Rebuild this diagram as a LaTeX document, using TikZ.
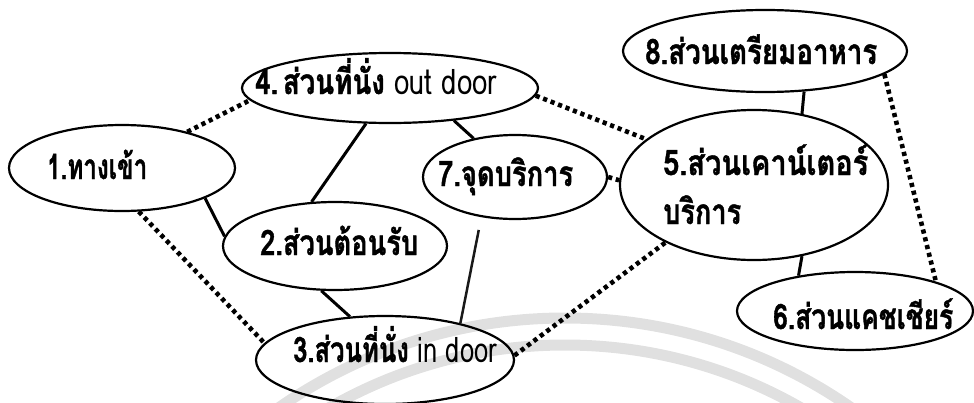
\documentclass[tikz,border=0pt]{standalone}
\usepackage{fontspec}
\usepackage{graphicx}
\newfontfamily\thai[Script=Thai, BoldFeatures={FakeBold=1.3}]{Loma}
\usetikzlibrary{shapes.geometric}
\newcommand\fitw[2]{\resizebox{#1}{\height}{#2}}
\begin{document}
\begin{tikzpicture}[x=1pt,y=-1pt,
  area/.style={draw, ellipse, line width=2.2pt, inner sep=0pt},
  lbl/.style={anchor=base west, inner sep=0pt, font=\thai\bfseries\fontsize{35}{37}\selectfont},
  link/.style={line width=3pt},
  thinlink/.style={line width=2.5pt, black!90},
  dotlink/.style={line width=4.6pt, dash pattern=on 4.2pt off 3.8pt},
  wm/.style={line width=11pt, black!12}]
\useasboundingbox (0,0) rectangle (974,402);
% faint watermark arcs
\begin{scope}
  \clip (0,0) rectangle (974,402);
  \draw[wm] (565,819) circle[radius=501pt];
  \draw[wm] (565,819) circle[radius=474pt];
\end{scope}
% areas
\node[area, minimum width=226pt, minimum height=86pt] (n1) at (122,168) {};
\node[area, minimum width=296pt, minimum height=70pt] (n4) at (390,88) {};
\node[area, minimum width=224pt, minimum height=88pt] (n2) at (335,246) {};
\node[area, minimum width=184pt, minimum height=84pt] (n7) at (515,177) {};
\node[area, minimum width=268pt, minimum height=150pt] (n5) at (754,185) {};
\node[area, minimum width=284pt, minimum height=82pt] (n8) at (765,51) {};
\node[area, minimum width=236pt, minimum height=78pt] (n6) at (855,311) {};
\node[area, minimum width=258pt, minimum height=88pt] (n3) at (385,360) {};
% labels
\node[lbl] (t1) at (47,179) {\fitw{100pt}{1.ทางเข้า}};
\node[lbl] (t4) at (255,94) {\fitw{242pt}{4.\,ส่วนที่นั่ง {\mdseries out door}}};
\node[lbl] (t2) at (260,255) {\fitw{158pt}{2.ส่วนต้อนรับ}};
\node[lbl] (t7) at (438,186) {\fitw{135pt}{7.จุดบริการ}};
\node[lbl] (t5a) at (663,175) {\fitw{205pt}{5.ส่วนเคาน์เตอร์}};
\node[lbl] (t5b) at (663,224) {\fitw{78pt}{บริการ}};
\node[lbl] (t8) at (645,64) {\fitw{232pt}{8.ส่วนเตรียมอาหาร}};
\node[lbl] (t6) at (773,329) {\fitw{180pt}{6.ส่วนแคชเชียร์}};
\node[lbl] (t3) at (293,362) {\fitw{204pt}{3.ส่วนที่นั่ง {\mdseries in door}}};
% connectors
\draw[dotlink] (n1.29) -- (n4.185);
\draw[link] (n1.-20) -- (n2.175);
\draw[dotlink] (n1.-69) -- (n3.172);
\draw[link] (n4.-124) -- (n2.118);
\draw[link] (n4.-27) -- (n7.137);
\draw[dotlink] (n4.-3) -- (n5.157);
\draw[dotlink] (n7.0) -- (n5.178);
\draw[link] (n2.-107) -- (n3.129);
\draw[thinlink, shorten >=13pt] (n3.26) -- (n7.-130);
\draw[dotlink] (n3.2) -- (n5.-147);
\draw[link] (n8.-46) -- (n5.56);
\draw[link] (n5.-56) -- (n6.148);
\draw[dotlink] (n8.-11) -- (n6.20);
\end{tikzpicture}
\end{document}
